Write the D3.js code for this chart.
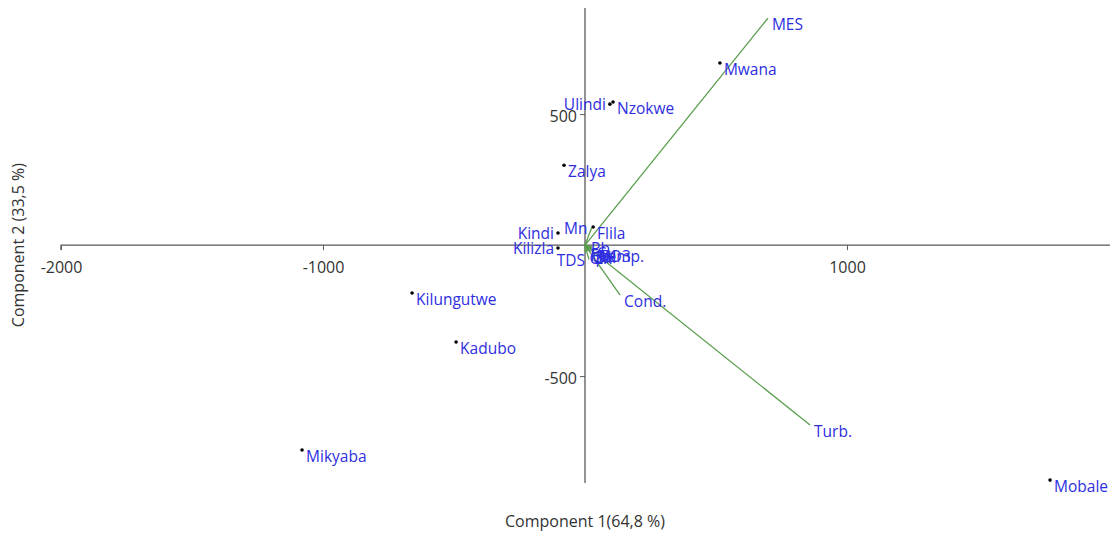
<!DOCTYPE html>
<html><head><meta charset="utf-8">
<script src="https://cdn.jsdelivr.net/npm/d3@7"></script>
<style>
html,body{margin:0;padding:0;background:#fff;}
svg text{font-family:"Open Sans","Noto Sans",sans-serif;}
</style></head>
<body><svg id="chart" width="1110" height="536"></svg>
<script>
// Sites (scores)
const siteNames = ["Mwana","Ulindi","Nzokwe","Zalya","Kindi","Flila","Kilizla","Kilungutwe","Kadubo","Mikyaba","Mobale"];
const siteX = [515, 95, 107, -80, -103, 31, -103, -660, -492, -1080, 1775];
const siteY = [695, 538, 546, 305, 46, 69, -11, -183, -370, -782, -897];
// Variables (loadings, scaled)
const varNames = ["MES","Turb.","Cond.","Mn","Pb","TDS","pH","Temp.","Fe","Zn","Cu","Cd","NO3","Cl"];
const varX = [698, 859, 134, 25, 8, 15, 25, 38, 5, 20, 30, 12, 35, 2];
const varY = [866, -687, -191, 65, 12, -55, -22, -18, -15, -25, -8, -22, -18, -28];
// Axes
const xTicks = [-2000, -1000, 1000];
const yTicks = [-500, 500];
const xTitle = "Component 1(64,8 %)";
const yTitle = "Component 2 (33,5 %)";
const leftLabels = new Set(["Ulindi","Kindi","Kilizla","Mn","TDS"]);

const svg = d3.select("#chart");
const x = d3.scaleLinear().domain([-2000, 2000]).range([61, 1109]);
const y = d3.scaleLinear().domain([-908, 905]).range([483, 8]);
const fmt = d => String(d);

const axisColor = "#5a5a5a";
const gx = svg.append("g").attr("transform", `translate(0,${y(0)})`)
  .call(d3.axisBottom(x).tickValues(xTicks).tickSize(5).tickPadding(12).tickFormat(fmt));
gx.select(".domain").attr("d", `M${x(-2000)},5V0H${1110}`).attr("stroke", axisColor).attr("stroke-width", 1.3);
const gy = svg.append("g").attr("transform", `translate(${x(0)},0)`)
  .call(d3.axisLeft(y).tickValues(yTicks).tickSize(5).tickPadding(3).tickFormat(fmt));
gy.select(".domain").attr("d", `M0,${y(905)}V${y(-908)}`).attr("stroke", axisColor).attr("stroke-width", 1.3);
svg.selectAll(".tick line").attr("stroke", axisColor);
svg.selectAll(".tick text").attr("fill", "#333").style("font-size", "16px").style("font-family", "'Open Sans','Noto Sans',sans-serif");
gy.selectAll(".tick text").attr("dy", "0.45em");

svg.append("text").attr("x", x(0)).attr("y", 527).attr("text-anchor", "middle")
  .attr("fill", "#333").style("font-size", "16px").text(xTitle);
svg.append("text").attr("transform", `translate(24,${y(0)}) rotate(-90)`).attr("text-anchor", "middle")
  .attr("fill", "#333").style("font-size", "16px").text(yTitle);

const blue = "#2e2ee0";
const green = "#5a9e4e";
const vars = varNames.map((n, i) => ({name: n, x: varX[i], y: varY[i]}));
svg.append("g").selectAll("line").data(vars).join("line")
  .attr("x1", x(0)).attr("y1", y(0)).attr("x2", d => x(d.x)).attr("y2", d => y(d.y))
  .attr("stroke", green).attr("stroke-width", 1.3);

function place(sel) {
  sel.attr("x", d => leftLabels.has(d.name) ? x(d.x) - 4 : x(d.x) + 4)
     .attr("y", d => leftLabels.has(d.name) ? y(d.y) + 6 : y(d.y) + 12)
     .attr("text-anchor", d => leftLabels.has(d.name) ? "end" : "start")
     .attr("fill", blue).style("font-size", "15.5px").text(d => d.name);
}
svg.append("g").selectAll("text").data(vars).join("text").call(place);

const sites = siteNames.map((n, i) => ({name: n, x: siteX[i], y: siteY[i]}));
svg.append("g").selectAll("circle").data(sites).join("circle")
  .attr("cx", d => x(d.x)).attr("cy", d => y(d.y)).attr("r", 1.8).attr("fill", "#000");
svg.append("g").selectAll("text").data(sites).join("text").call(place);
</script></body></html>
